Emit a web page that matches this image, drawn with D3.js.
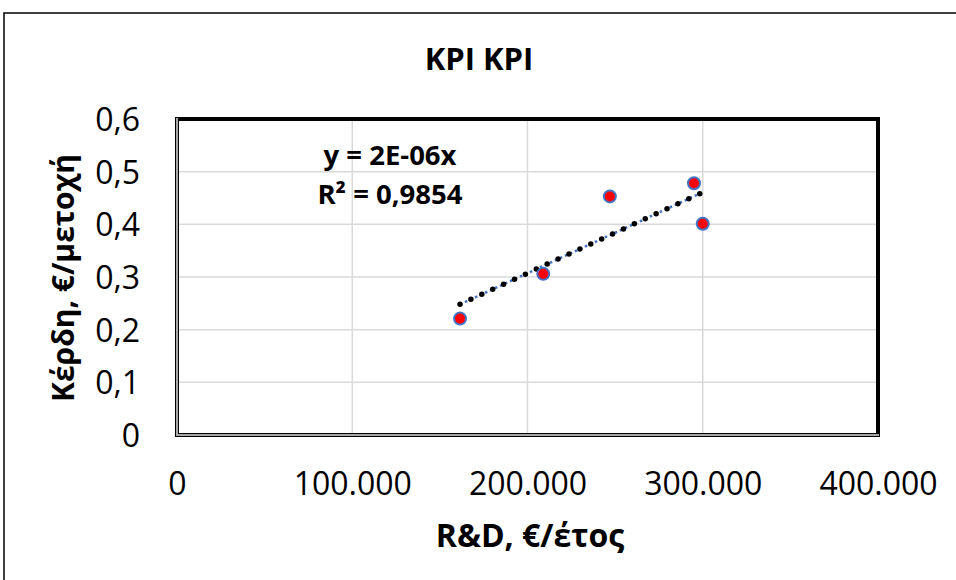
<!DOCTYPE html>
<html><head><meta charset="utf-8">
<script src="https://cdn.jsdelivr.net/npm/d3@7"></script>
<style>body{margin:0;background:#fff}svg{display:block}text{font-family:"Open Sans",sans-serif}</style>
</head><body><svg id="c" width="956" height="580"></svg>
<script>
const titleText = "KPI KPI";
const xTitle = "R&D, €/έτος";
const yTitle = "Κέρδη, €/μετοχή";
const rd = [161500, 209000, 247000, 295000, 300000];
const eps = [0.221, 0.306, 0.453, 0.478, 0.401];
const xTicks = [0, 100000, 200000, 300000, 400000];
const yTicks = [0, 0.1, 0.2, 0.3, 0.4, 0.5, 0.6];
const eqLines = ["y = 2E-06x", "R² = 0,9854"];

const svg = d3.select("#c");
const x = d3.scaleLinear().domain([0, 400000]).range([177, 878]);
const y = d3.scaleLinear().domain([0, 0.6]).range([435, 119]);
const fmtX = v => d3.format(",")(v).replace(/,/g, ".");
const fmtY = v => String(+v.toFixed(1)).replace(".", ",");

// outer chart border
svg.append("rect").attr("x",4).attr("y",13).attr("width",1000).attr("height",1000)
  .attr("fill","none").attr("stroke","#000").attr("stroke-width",1.5);

// gridlines
svg.append("g").selectAll("line").data(xTicks.slice(1,-1)).join("line")
  .attr("x1",d=>x(d)).attr("x2",d=>x(d)).attr("y1",y(0.6)).attr("y2",y(0))
  .attr("stroke","#d9d9d9").attr("stroke-width",1.5);
svg.append("g").selectAll("line").data(yTicks.slice(1,-1)).join("line")
  .attr("y1",d=>y(d)).attr("y2",d=>y(d)).attr("x1",x(0)).attr("x2",x(400000))
  .attr("stroke","#d9d9d9").attr("stroke-width",1.5);

// frame
svg.append("rect").attr("x",x(0)).attr("y",y(0.6)).attr("width",x(400000)-x(0)).attr("height",y(0)-y(0.6))
  .attr("fill","none").attr("stroke","#000").attr("stroke-width",4);
svg.append("path").attr("d",`M${x(0)},${y(0.6)-1}V${y(0)}H${x(400000)+1}`)
  .attr("fill","none").attr("stroke","#a6a6a6").attr("stroke-width",2);

// axes (labels only)
const xAxis = d3.axisBottom(x).tickValues(xTicks).tickFormat(fmtX).tickSize(0).tickPadding(0);
const gx = svg.append("g").attr("transform","translate(0,495)").call(xAxis);
gx.select(".domain").remove();
gx.selectAll("text").attr("dy",0).attr("font-size",32).attr("font-family","Open Sans").attr("fill","#000");

const yAxis = d3.axisLeft(y).tickValues(yTicks).tickFormat(fmtY).tickSize(0).tickPadding(0);
const gy = svg.append("g").attr("transform","translate(140,0)").call(yAxis);
gy.select(".domain").remove();
gy.selectAll("text").attr("dy","0.36em").attr("font-size",32).attr("font-family","Open Sans").attr("fill","#000");

// trendline through origin
const b = d3.sum(rd,(d,i)=>d*eps[i]) / d3.sum(rd,d=>d*d);
const ext = d3.extent(rd);
const trend = ext.map(v=>[x(v), y(b*v)]);
const line = d3.line();
svg.append("path").attr("d",line(trend)).attr("stroke","#4472c4").attr("stroke-width",2.5)
  .attr("stroke-dasharray","2.5 3").attr("fill","none");
svg.append("path").attr("d",line(trend)).attr("stroke","#000").attr("stroke-width",5.5)
  .attr("stroke-linecap","round").attr("stroke-dasharray","0 12").attr("fill","none");

// points
svg.append("g").selectAll("circle").data(rd).join("circle")
  .attr("cx",d=>x(d)).attr("cy",(d,i)=>y(eps[i])).attr("r",6)
  .attr("fill","#ff0000").attr("stroke","#4472c4").attr("stroke-width",2);

// equation label
svg.append("g").selectAll("text").data(eqLines).join("text")
  .attr("x",390).attr("y",(d,i)=>165+i*39).attr("text-anchor","middle")
  .attr("font-size",27.5).attr("font-weight","bold").text(d=>d);

// titles
svg.append("text").attr("x",479).attr("y",70).attr("text-anchor","middle")
  .attr("font-size",31).attr("font-weight","bold").text(titleText);
svg.append("text").attr("x",530).attr("y",547).attr("text-anchor","middle")
  .attr("font-size",32).attr("font-weight","bold").text(xTitle);
svg.append("text").attr("transform","translate(74,278) rotate(-90)").attr("text-anchor","middle")
  .attr("font-size",30).attr("font-weight","bold").text(yTitle);
</script></body></html>
